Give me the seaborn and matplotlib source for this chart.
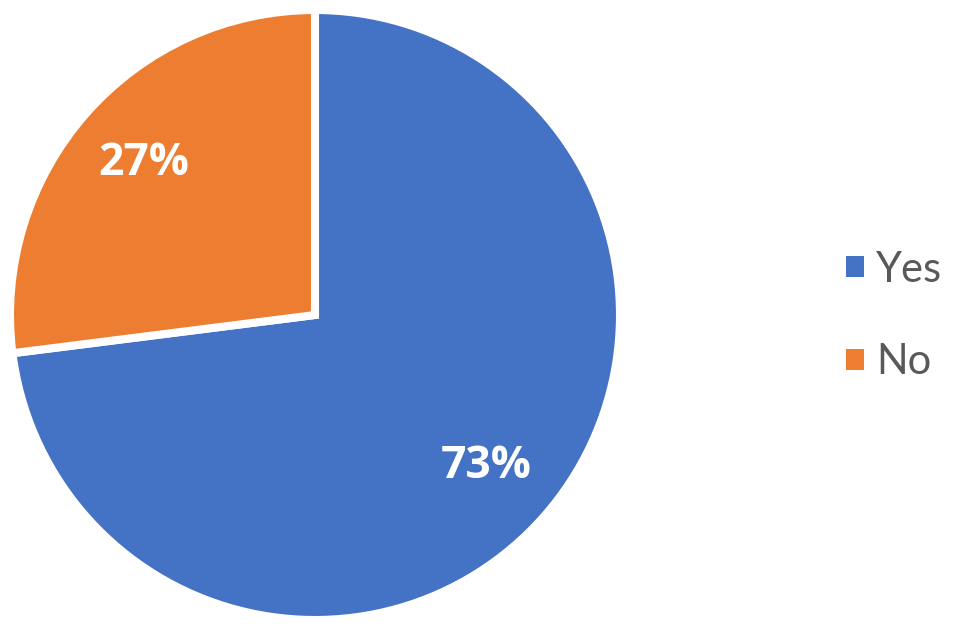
import matplotlib
matplotlib.use("Agg")
import matplotlib.pyplot as plt
import seaborn as sns
from matplotlib.patches import Patch

categories = ["Yes", "No"]
values = [73, 27]
colors = ["#4472C4", "#ED7D31"]

sns.set_theme(style="white")
plt.rcParams['font.family'] = ['Lato', 'DejaVu Sans']

W, H = 958, 628
fig = plt.figure(figsize=(W / 100, H / 100), dpi=100)
cx, cy, R = 315, 315, 305
ax = fig.add_axes([(cx - R) / W, (H - cy - R) / H, 2 * R / W, 2 * R / H])

wedges, texts, autotexts = ax.pie(
    values, colors=colors, startangle=90, counterclock=False, radius=1,
    autopct=lambda p: f"{p:.0f}%", pctdistance=0.75,
    wedgeprops=dict(edgecolor="white", linewidth=5.8),
    textprops=dict(color="white", fontsize=32, fontweight="bold",
                   family=["Open Sans", "DejaVu Sans"]))
ax.set_xlim(-1, 1)
ax.set_ylim(-1, 1)
ax.set_aspect("equal")
ax.axis("off")

handles = [Patch(facecolor=c, edgecolor="none") for c in colors]
leg = fig.legend(handles, categories, loc="center left",
                 bbox_to_anchor=(846 / W, 1 - 316 / H), frameon=False,
                 borderpad=0, borderaxespad=0,
                 fontsize=30, labelspacing=1.32, handlelength=0.42, handleheight=0.42,
                 handletextpad=0.3)
for t in leg.get_texts():
    t.set_color("#595959")

fig.savefig("out.png", dpi=100)
